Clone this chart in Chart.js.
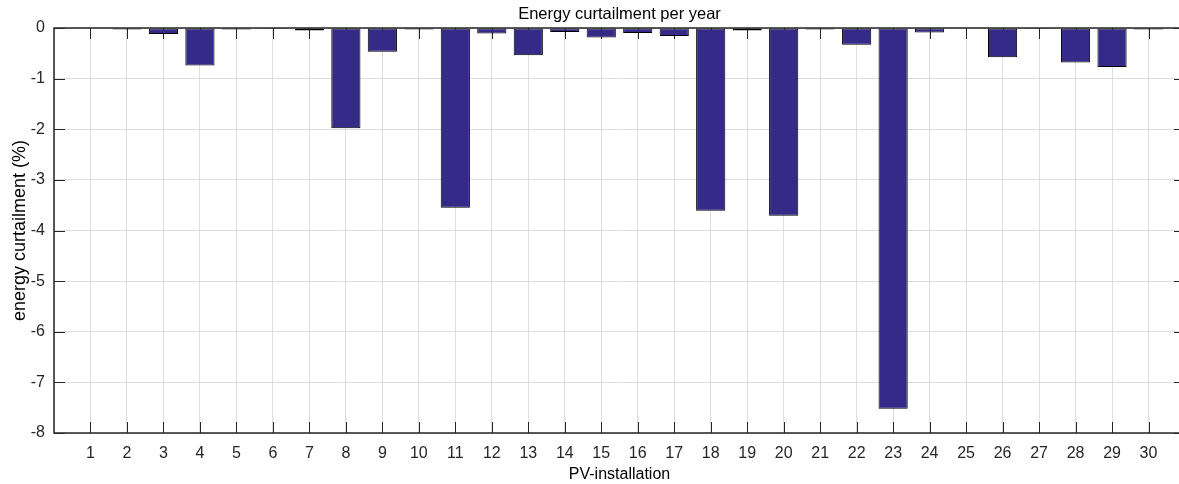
<!DOCTYPE html>
<html>
<head>
<meta charset="utf-8">
<title>Energy curtailment per year</title>
<script src="https://cdn.jsdelivr.net/npm/chart.js@4"></script>
<style>
  html, body { margin: 0; padding: 0; background: #fff; overflow: hidden; }
  #wrap { width: 1196px; height: 484px; }
</style>
</head>
<body>
<div id="wrap"><canvas id="chart" width="1196" height="484"></canvas></div>
<script>
// PV installations 1..30 and their yearly energy curtailment in %
const installations = [1, 2, 3, 4, 5, 6, 7, 8, 9, 10, 11, 12, 13, 14, 15,
    16, 17, 18, 19, 20, 21, 22, 23, 24, 25, 26, 27, 28, 29, 30];
const curtailment = [0, -0.03, -0.12, -0.74, -0.03, -0.02, -0.05, -1.98, -0.47, -0.03,
    -3.55, -0.11, -0.54, -0.08, -0.19, -0.10, -0.16, -3.61, -0.05, -3.71,
    -0.03, -0.33, -7.52, -0.09, 0, -0.58, -0.02, -0.68, -0.77, -0.03];
const yMin = -8;
const yMax = 0;

const AXIS_COLOR = '#262626';
const GRID_COLOR = '#dedede';
const TICK_LEN = 11;

Chart.defaults.font.family = '"Liberation Sans", Arial, Helvetica, sans-serif';
Chart.defaults.color = AXIS_COLOR;

// ticks point inwards on all four sides, box drawn over the bars
const boxAxes = {
    id: 'boxAxes',
    beforeDatasetsDraw: chart => {
        const { ctx, chartArea: a, scales: { x, y } } = chart;
        ctx.save();
        ctx.strokeStyle = AXIS_COLOR;
        ctx.lineWidth = 1;
        ctx.beginPath();
        x.ticks.forEach((t, i) => {
            if (t.value < installations[0] || t.value > installations[installations.length - 1])
                return;
            const px = Math.round(x.getPixelForTick(i)) + 0.5;
            ctx.moveTo(px, a.bottom);
            ctx.lineTo(px, a.bottom - TICK_LEN);
            ctx.moveTo(px, a.top);
            ctx.lineTo(px, a.top + TICK_LEN);
        });
        y.ticks.forEach((t, i) => {
            const py = Math.round(y.getPixelForTick(i)) + 0.5;
            ctx.moveTo(a.left, py);
            ctx.lineTo(a.left + TICK_LEN, py);
            ctx.moveTo(a.right, py);
            ctx.lineTo(a.right - TICK_LEN, py);
        });
        ctx.stroke();
        ctx.restore();
    },
    afterDatasetsDraw: chart => {
        const { ctx, chartArea: a } = chart;
        ctx.save();
        ctx.strokeStyle = AXIS_COLOR;
        ctx.lineWidth = 1.5;
        ctx.strokeRect(a.left, a.top, a.right - a.left, a.bottom - a.top);
        ctx.restore();
    }
};

new Chart(document.getElementById('chart'), {
    type: 'bar',
    data: {
        datasets: [{
            label: 'energy curtailment',
            data: installations.map((n, i) => ({ x: n, y: curtailment[i] })),
            backgroundColor: '#352a87',
            borderColor: '#000000',
            borderWidth: 1,
            borderSkipped: false,
            barPercentage: 0.8,
            categoryPercentage: 1
        }]
    },
    options: {
        responsive: false,
        animation: false,
        devicePixelRatio: 1,
        layout: { padding: 0 },
        plugins: {
            legend: { display: false },
            tooltip: { enabled: false },
            title: {
                display: true,
                text: 'Energy curtailment per year',
                fullSize: false,
                color: '#000000',
                font: { size: 16.5, weight: 'normal', lineHeight: 1 },
                padding: { top: 6, bottom: 5.5 }
            }
        },
        scales: {
            x: {
                type: 'linear',
                offset: false,
                min: 0,
                max: 31,
                ticks: {
                    stepSize: 1,
                    autoSkip: false,
                    maxRotation: 0,
                    padding: 11,
                    font: { size: 16 },
                    callback: v => (v >= 1 && v <= 30 ? v : '')
                },
                grid: { color: GRID_COLOR, drawTicks: false, offset: false },
                border: { display: false },
                title: {
                    display: true,
                    text: 'PV-installation',
                    color: '#000000',
                    font: { size: 16, lineHeight: 1.2 },
                    padding: { top: 0, bottom: 0 }
                },
                afterFit: s => { s.height = 51; }
            },
            y: {
                min: yMin,
                max: yMax,
                ticks: { stepSize: 1, padding: 9, font: { size: 16 } },
                grid: { color: GRID_COLOR, drawTicks: false },
                border: { display: false },
                title: {
                    display: true,
                    text: 'energy curtailment (%)',
                    color: '#000000',
                    font: { size: 18, lineHeight: 1.2 },
                    padding: { top: 9, bottom: 0 }
                },
                afterFit: s => { s.width = 54; }
            }
        }
    },
    plugins: [boxAxes]
});
</script>
</body>
</html>
